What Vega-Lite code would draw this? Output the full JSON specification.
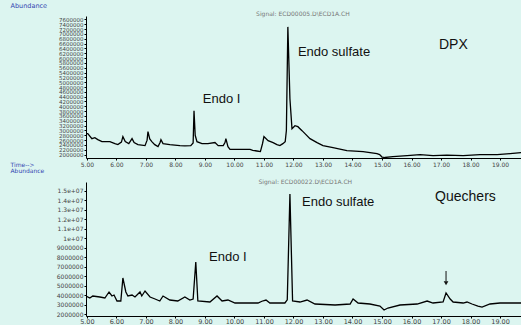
{
  "$schema": "https://vega.github.io/schema/vega-lite/v6.json",
  "background": "#dcf5f0",
  "padding": {"left": 10, "top": 2, "right": 0, "bottom": 0},
  "bounds": "flush",
  "spacing": 24,
  "config": {
    "view": {"stroke": null},
    "axis": {"domainColor": "#000", "tickColor": "#000", "labelColor": "#444", "labelFont": "DejaVu Sans", "grid": false, "tickSize": 2, "labelPadding": 1, "labelOverlap": false, "labelFlush": false, "tickCount": 200, "titleFont": "DejaVu Sans", "titleFontWeight": "normal", "titleColor": "#3345b0", "titleFontSize": 6.5}
  },
  "datasets": {
    "dpx": [
      {"t":4.97,"v":2868000},{"t":5.03,"v":2868000},{"t":5.17,"v":2661000},{"t":5.27,"v":2700000},{"t":5.37,"v":2620000},{"t":5.51,"v":2537000},{"t":5.78,"v":2537000},{"t":5.95,"v":2455000},{"t":6.05,"v":2413000},{"t":6.17,"v":2520000},{"t":6.22,"v":2744000},{"t":6.30,"v":2537000},{"t":6.42,"v":2455000},{"t":6.53,"v":2661000},{"t":6.60,"v":2496000},{"t":6.73,"v":2413000},{"t":6.97,"v":2372000},{"t":7.04,"v":2600000},{"t":7.07,"v":2950000},{"t":7.13,"v":2650000},{"t":7.20,"v":2540000},{"t":7.30,"v":2413000},{"t":7.41,"v":2331000},{"t":7.48,"v":2500000},{"t":7.51,"v":2620000},{"t":7.58,"v":2455000},{"t":7.81,"v":2413000},{"t":8.15,"v":2372000},{"t":8.32,"v":2360000},{"t":8.52,"v":2372000},{"t":8.60,"v":2480000},{"t":8.63,"v":3818000},{"t":8.67,"v":2800000},{"t":8.73,"v":2537000},{"t":8.90,"v":2455000},{"t":9.10,"v":2455000},{"t":9.34,"v":2500000},{"t":9.45,"v":2372000},{"t":9.62,"v":2372000},{"t":9.68,"v":2500000},{"t":9.71,"v":2661000},{"t":9.78,"v":2331000},{"t":9.85,"v":2219000},{"t":10.19,"v":2219000},{"t":10.53,"v":2219000},{"t":10.62,"v":2180000},{"t":10.76,"v":2150000},{"t":10.88,"v":2124000},{"t":10.95,"v":2450000},{"t":11.00,"v":2744000},{"t":11.14,"v":2579000},{"t":11.31,"v":2496000},{"t":11.44,"v":2413000},{"t":11.54,"v":2372000},{"t":11.64,"v":2455000},{"t":11.72,"v":2537000},{"t":11.76,"v":3000000},{"t":11.81,"v":7289000},{"t":11.88,"v":4314000},{"t":11.95,"v":3074000},{"t":12.05,"v":3198000},{"t":12.15,"v":3157000},{"t":12.29,"v":2992000},{"t":12.39,"v":2868000},{"t":12.56,"v":2661000},{"t":12.80,"v":2496000},{"t":13.00,"v":2372000},{"t":13.34,"v":2289000},{"t":13.81,"v":2165000},{"t":14.36,"v":2124000},{"t":14.83,"v":2041000},{"t":14.92,"v":2000000},{"t":15.00,"v":1900000},{"t":15.10,"v":1880000},{"t":15.37,"v":1917000},{"t":15.85,"v":1959000},{"t":16.29,"v":2000000},{"t":16.73,"v":1959000},{"t":17.20,"v":1975000},{"t":17.75,"v":1959000},{"t":18.32,"v":2000000},{"t":18.90,"v":2000000},{"t":19.34,"v":2041000},{"t":19.71,"v":2083000}
    ],
    "que": [
      {"t":4.97,"v":3903000},{"t":5.10,"v":3691000},{"t":5.20,"v":3903000},{"t":5.44,"v":3797000},{"t":5.61,"v":3691000},{"t":5.75,"v":4326000},{"t":5.85,"v":3903000},{"t":5.92,"v":4008000},{"t":6.02,"v":3374000},{"t":6.15,"v":3374000},{"t":6.22,"v":5805000},{"t":6.32,"v":4326000},{"t":6.39,"v":3903000},{"t":6.53,"v":4008000},{"t":6.63,"v":3797000},{"t":6.80,"v":4326000},{"t":6.86,"v":3903000},{"t":6.97,"v":4431000},{"t":7.14,"v":3797000},{"t":7.31,"v":3586000},{"t":7.47,"v":3374000},{"t":7.58,"v":3903000},{"t":7.81,"v":3480000},{"t":8.08,"v":3374000},{"t":8.32,"v":3797000},{"t":8.49,"v":3480000},{"t":8.60,"v":3586000},{"t":8.69,"v":7497000},{"t":8.76,"v":3374000},{"t":9.17,"v":3268000},{"t":9.41,"v":3903000},{"t":9.58,"v":3374000},{"t":9.78,"v":3480000},{"t":10.02,"v":3163000},{"t":10.53,"v":3163000},{"t":10.80,"v":3163000},{"t":10.93,"v":3350000},{"t":11.07,"v":3480000},{"t":11.20,"v":3163000},{"t":11.71,"v":3163000},{"t":11.79,"v":3500000},{"t":11.88,"v":14685000},{"t":11.97,"v":3374000},{"t":12.22,"v":3268000},{"t":12.46,"v":3480000},{"t":12.73,"v":3057000},{"t":13.41,"v":2951000},{"t":13.92,"v":3057000},{"t":14.02,"v":3586000},{"t":14.19,"v":3163000},{"t":14.59,"v":3057000},{"t":14.93,"v":2846000},{"t":15.07,"v":2423000},{"t":15.20,"v":2634000},{"t":15.61,"v":2951000},{"t":16.19,"v":3057000},{"t":16.53,"v":3374000},{"t":16.73,"v":3163000},{"t":17.07,"v":3268000},{"t":17.17,"v":4220000},{"t":17.31,"v":3586000},{"t":17.41,"v":3268000},{"t":17.75,"v":3163000},{"t":17.88,"v":3268000},{"t":18.05,"v":3057000},{"t":18.25,"v":2846000},{"t":18.39,"v":2740000},{"t":18.66,"v":3057000},{"t":19.00,"v":3163000},{"t":19.71,"v":3163000}
    ],
    "lab1": [
      {"t":8.93,"v":4314000,"label":"Endo I"},
      {"t":12.15,"v":6256000,"label":"Endo sulfate"},
      {"t":16.93,"v":6545000,"label":"DPX"}
    ],
    "lab2": [
      {"t":9.14,"v":8025000,"label":"Endo I"},
      {"t":12.29,"v":13839000,"label":"Endo sulfate"},
      {"t":16.80,"v":14368000,"label":"Quechers"}
    ],
    "sig1": [{"t":12.32,"v":7830000,"label":"Signal: ECD00005.D\\ECD1A.CH"}],
    "sig2": [{"t":12.40,"v":15950000,"label":"Signal: ECD00022.D\\ECD1A.CH"}],
    "arrow": [
      {"t":17.17,"v":6545000,"v2":5450000,"head":5250000}
    ]
  },
  "vconcat": [
    {
      "width": 435,
      "height": 142,
      "layer": [
        {
          "data": {"name": "dpx"},
          "mark": {"type": "line", "color": "#000", "strokeWidth": 1.3, "clip": true},
          "encoding": {
            "x": {"field": "t", "type": "quantitative", "title": "Time-->",
              "scale": {"domain": [4.97, 19.71], "nice": false, "zero": false},
              "axis": {"values": [5,6,7,8,9,10,11,12,13,14,15,16,17,18,19], "tickCount": 200, "format": ".2f", "labelFontSize": 6, "labelOverlap": false, "labelFlush": false, "titleX": -76, "titleY": 6.5, "titleFontSize": 6, "titleAlign": "left", "titleBaseline": "middle", "titleAngle": 0}},
            "y": {"field": "v", "type": "quantitative", "title": "Abundance",
              "scale": {"domain": [1860000, 7740000], "nice": false, "zero": false},
              "axis": {"values": [2000000,2200000,2400000,2600000,2800000,3000000,3200000,3400000,3600000,3800000,4000000,4200000,4400000,4600000,4800000,5000000,5200000,5400000,5600000,5800000,6000000,6200000,6400000,6600000,6800000,7000000,7200000,7400000,7600000], "tickCount": 200, "format": "d", "labelFontSize": 5.5, "labelOverlap": false, "titleX": -76, "titleY": -11, "titleAlign": "left", "titleBaseline": "middle", "titleAngle": 0}}
          }
        },
        {
          "data": {"name": "sig1"},
          "mark": {"type": "text", "align": "center", "baseline": "middle", "font": "DejaVu Sans", "fontSize": 6, "color": "#777"},
          "encoding": {
            "x": {"field": "t", "type": "quantitative", "title": "Time-->"},
            "y": {"field": "v", "type": "quantitative", "title": "Abundance"},
            "text": {"field": "label"}
          }
        },
        {
          "data": {"name": "lab1"},
          "transform": [{"filter": "datum.label != 'DPX'"}],
          "mark": {"type": "text", "align": "left", "baseline": "middle", "font": "Liberation Sans", "fontSize": 13, "color": "#111"},
          "encoding": {
            "x": {"field": "t", "type": "quantitative", "title": "Time-->"},
            "y": {"field": "v", "type": "quantitative", "title": "Abundance"},
            "text": {"field": "label"}
          }
        },
        {
          "data": {"name": "lab1"},
          "transform": [{"filter": "datum.label == 'DPX'"}],
          "mark": {"type": "text", "align": "left", "baseline": "middle", "font": "Liberation Sans", "fontSize": 14, "color": "#111"},
          "encoding": {
            "x": {"field": "t", "type": "quantitative", "title": "Time-->"},
            "y": {"field": "v", "type": "quantitative", "title": "Abundance"},
            "text": {"field": "label"}
          }
        }
      ]
    },
    {
      "width": 435,
      "height": 134,
      "layer": [
        {
          "data": {"name": "que"},
          "mark": {"type": "line", "color": "#000", "strokeWidth": 1.3, "clip": true},
          "encoding": {
            "x": {"field": "t", "type": "quantitative", "title": null,
              "scale": {"domain": [4.97, 19.71], "nice": false, "zero": false},
              "axis": {"values": [5,6,7,8,9,10,11,12,13,14,15,16,17,18,19], "tickCount": 200, "format": ".2f", "labelFontSize": 6.5, "labelPadding": 0, "labelOverlap": false, "labelFlush": false}},
            "y": {"field": "v", "type": "quantitative", "title": "Abundance",
              "scale": {"domain": [1790000, 15950000], "nice": false, "zero": false},
              "axis": {"values": [2000000,3000000,4000000,5000000,6000000,7000000,8000000,9000000,10000000,11000000,12000000,13000000,14000000,15000000], "tickCount": 200, "labelExpr": "datum.value < 10000000 ? format(datum.value, 'd') : replace(format(datum.value / 10000000, '.1f'), '.0', '') + 'e+07'", "labelFontSize": 6, "labelOverlap": false, "titleX": -76, "titleY": -11.5, "titleFontSize": 6, "titleAlign": "left", "titleBaseline": "middle", "titleAngle": 0}}
          }
        },
        {
          "data": {"name": "sig2"},
          "mark": {"type": "text", "align": "center", "baseline": "middle", "font": "DejaVu Sans", "fontSize": 6, "color": "#777"},
          "encoding": {
            "x": {"field": "t", "type": "quantitative", "title": null},
            "y": {"field": "v", "type": "quantitative", "title": "Abundance"},
            "text": {"field": "label"}
          }
        },
        {
          "data": {"name": "lab2"},
          "transform": [{"filter": "datum.label != 'Quechers'"}],
          "mark": {"type": "text", "align": "left", "baseline": "middle", "font": "Liberation Sans", "fontSize": 13, "color": "#111"},
          "encoding": {
            "x": {"field": "t", "type": "quantitative", "title": null},
            "y": {"field": "v", "type": "quantitative", "title": "Abundance"},
            "text": {"field": "label"}
          }
        },
        {
          "data": {"name": "lab2"},
          "transform": [{"filter": "datum.label == 'Quechers'"}],
          "mark": {"type": "text", "align": "left", "baseline": "middle", "font": "Liberation Sans", "fontSize": 14, "color": "#111"},
          "encoding": {
            "x": {"field": "t", "type": "quantitative", "title": null},
            "y": {"field": "v", "type": "quantitative", "title": "Abundance"},
            "text": {"field": "label"}
          }
        },
        {
          "data": {"name": "arrow"},
          "mark": {"type": "rule", "color": "#111", "strokeWidth": 1},
          "encoding": {
            "x": {"field": "t", "type": "quantitative", "title": null},
            "y": {"field": "v", "type": "quantitative", "title": "Abundance"},
            "y2": {"field": "v2"}
          }
        },
        {
          "data": {"name": "arrow"},
          "mark": {"type": "point", "shape": "triangle-down", "filled": true, "color": "#111", "size": 22, "opacity": 1},
          "encoding": {
            "x": {"field": "t", "type": "quantitative", "title": null},
            "y": {"field": "head", "type": "quantitative", "title": "Abundance"}
          }
        }
      ]
    }
  ]
}
